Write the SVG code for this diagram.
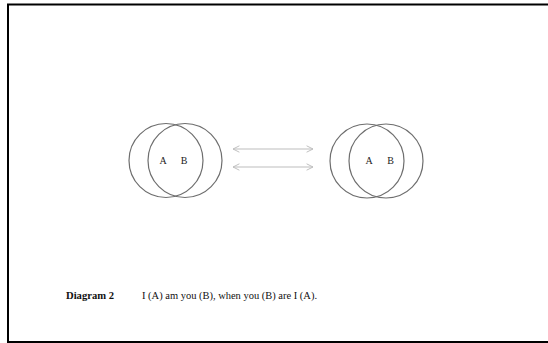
<svg xmlns="http://www.w3.org/2000/svg" width="548" height="343" viewBox="0 0 548 343">
  <style>
    .ring { fill: none; stroke: #6e6e6e; stroke-width: 1.2; }
    .lbl { font-family: "Liberation Serif", "DejaVu Serif", serif; font-size: 10px; fill: #222; }
    .cap { font-family: "Liberation Serif", "DejaVu Serif", serif; font-size: 10px; fill: #111; }
    .arrow { fill: none; stroke: #bdbdbd; stroke-width: 1; }
  </style>
  <defs>
    <marker id="head" viewBox="0 0 10 10" refX="9" refY="5" markerWidth="8" markerHeight="8" orient="auto-start-reverse" markerUnits="userSpaceOnUse">
      <path d="M1,1 L9,5 L1,9" fill="none" stroke="#bdbdbd" stroke-width="1.2"/>
    </marker>
  </defs>
  <rect x="0" y="0" width="548" height="343" fill="#ffffff"/>
  <rect id="frame" x="8" y="4.5" width="560" height="337.5" fill="none" stroke="#000" stroke-width="2"/>

  <g id="venn-left">
    <circle class="ring" cx="166" cy="160.5" r="37"/>
    <circle class="ring" cx="185" cy="160.5" r="37"/>
    <text class="lbl" x="163" y="163.5" text-anchor="middle">A</text>
    <text class="lbl" x="184" y="163.5" text-anchor="middle">B</text>
  </g>

  <g id="venn-right">
    <circle class="ring" cx="367" cy="161" r="37"/>
    <circle class="ring" cx="386" cy="161" r="37"/>
    <text class="lbl" x="369" y="164" text-anchor="middle">A</text>
    <text class="lbl" x="390.5" y="164" text-anchor="middle">B</text>
  </g>

  <g id="connectors">
    <line class="arrow" x1="233" y1="149" x2="313" y2="149" marker-start="url(#head)" marker-end="url(#head)"/>
    <line class="arrow" x1="233" y1="167" x2="313" y2="167" marker-start="url(#head)" marker-end="url(#head)"/>
  </g>

  <g id="caption">
    <text class="cap" x="66" y="298.5" font-weight="bold" textLength="48" lengthAdjust="spacingAndGlyphs">Diagram 2</text>
    <text class="cap" x="142" y="298.5" textLength="175" lengthAdjust="spacingAndGlyphs">I (A) am you (B), when you (B) are I (A).</text>
  </g>
</svg>
